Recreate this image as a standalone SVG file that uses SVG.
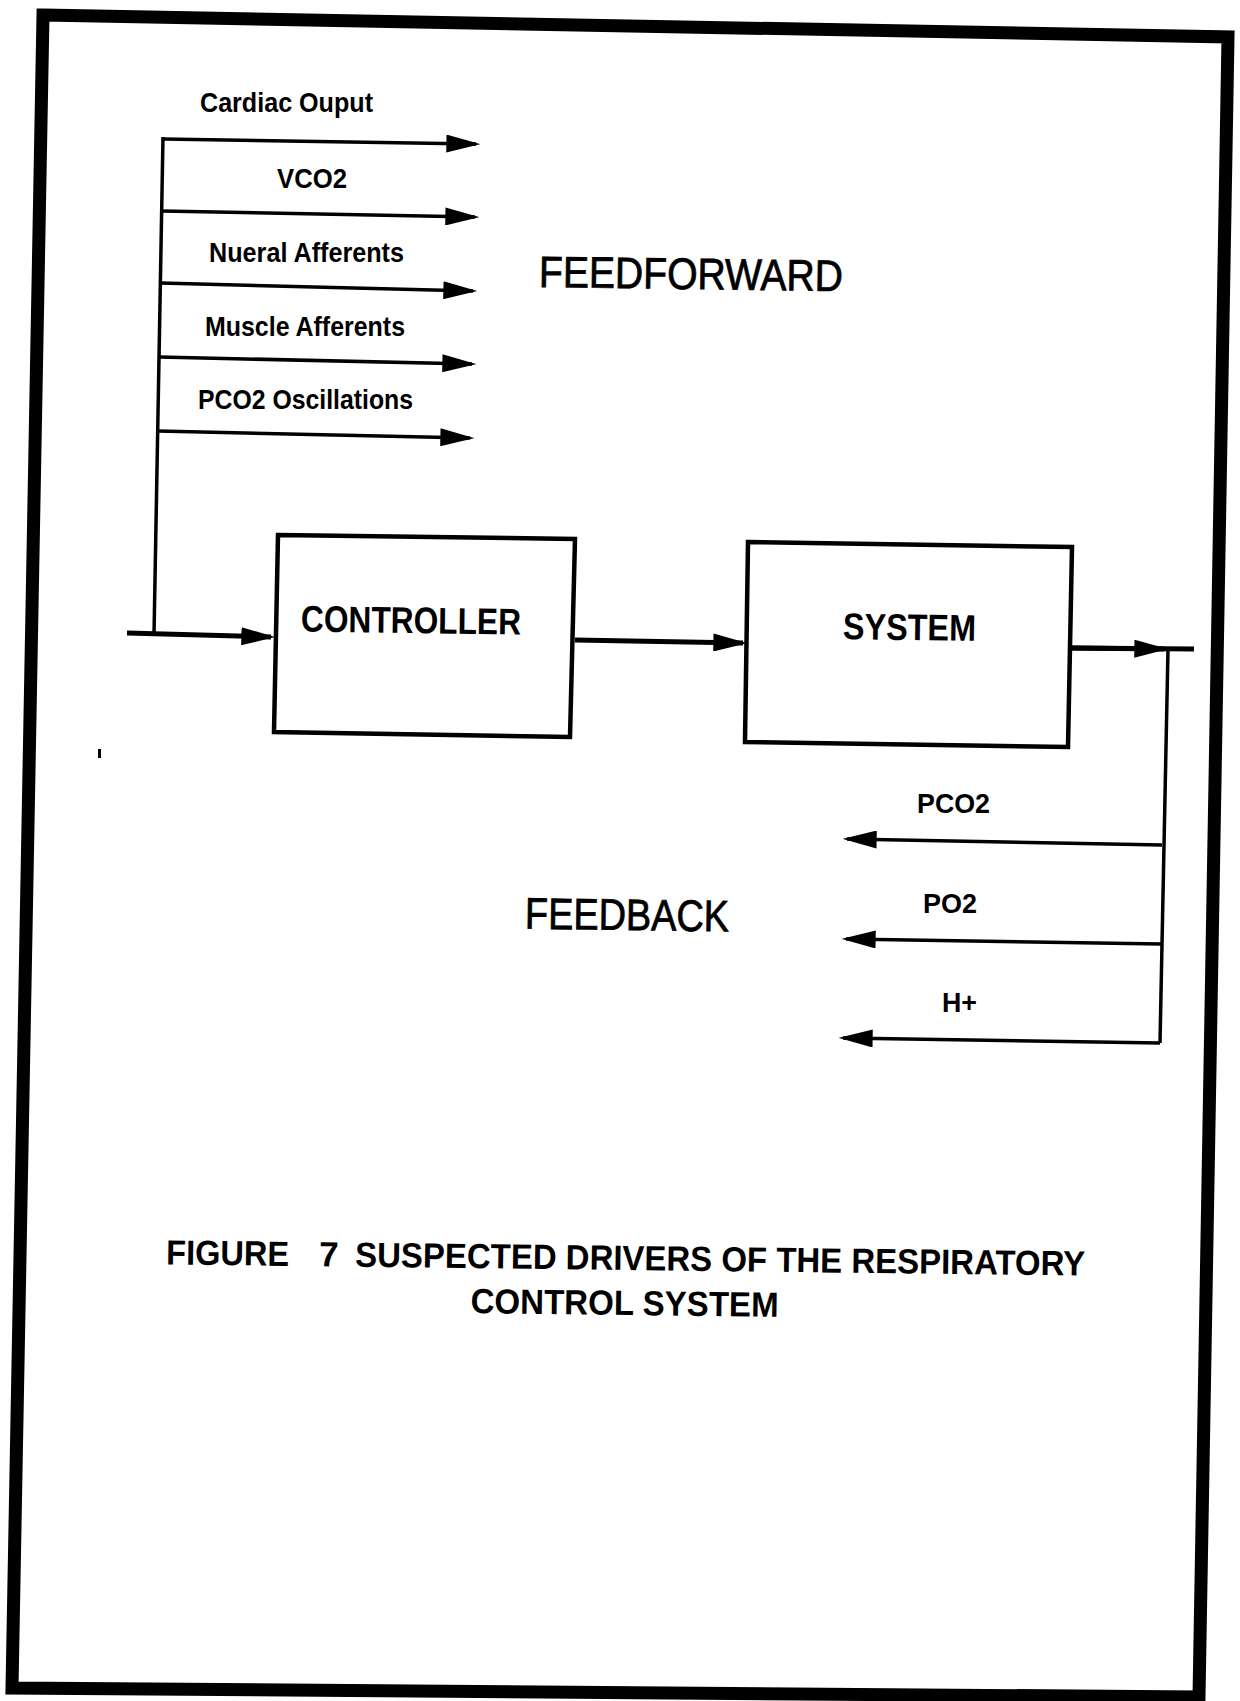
<svg xmlns="http://www.w3.org/2000/svg" width="1240" height="1701" viewBox="0 0 1240 1701">
<defs>
<marker id="ah" markerUnits="userSpaceOnUse" markerWidth="34" markerHeight="18" viewBox="0 0 32 17" refX="28" refY="8.5" orient="auto">
<path d="M0,0 L32,8.5 L0,17 Z" fill="#000"/>
</marker>
<style>
.frame{fill:none;stroke:#000;stroke-width:13;stroke-linejoin:miter}
.box{fill:#fff;stroke:#000;stroke-width:4.5;stroke-linejoin:miter}
.ln{fill:none;stroke:#000;stroke-width:3.5;stroke-linecap:butt}
.main{fill:none;stroke:#000;stroke-width:5;stroke-linecap:butt}
.lbl{font-family:"Liberation Sans",Arial,sans-serif;font-weight:bold;font-size:28px;fill:#000}
.big{font-family:"Liberation Sans",Arial,sans-serif;font-size:44px;fill:#000;stroke:#000;stroke-width:0.8}
.nodet{font-family:"Liberation Sans",Arial,sans-serif;font-weight:bold;font-size:37px;fill:#000}
.cap{font-family:"Liberation Sans",Arial,sans-serif;font-weight:bold;font-size:35px;fill:#000}
</style>
</defs>
<rect width="1240" height="1701" fill="#fff"/>
<polygon class="frame" points="43,15 1228,37 1199,1697 12,1688"/>

<g id="connectors">
<path class="ln" d="M163,137 L154,635"/>
<path class="main" d="M127,633 L271,637" marker-end="url(#ah)"/>
<path class="ln" d="M163,139 L476,144" marker-end="url(#ah)"/>
<path class="ln" d="M161.7,211 L475,217" marker-end="url(#ah)"/>
<path class="ln" d="M160.3,283 L473,291" marker-end="url(#ah)"/>
<path class="ln" d="M159,357 L472,364" marker-end="url(#ah)"/>
<path class="ln" d="M157.7,431 L470,438" marker-end="url(#ah)"/>
<path class="main" d="M575,640 L743,643" marker-end="url(#ah)"/>
<path class="main" d="M1072,648 L1194,649"/>
<path class="main" d="M1072,648 L1164,649" marker-end="url(#ah)"/>
<path class="ln" d="M1168,649 L1160,1043"/>
<path class="ln" d="M1162,845 L847,839" marker-end="url(#ah)"/>
<path class="ln" d="M1161,944 L846,939" marker-end="url(#ah)"/>
<path class="ln" d="M1160,1043 L843,1038" marker-end="url(#ah)"/>
</g>

<g id="controller">
<polygon class="box" points="278,535 575,539 570,737 274,732"/>
<text class="nodet" x="301" y="633" textLength="220" lengthAdjust="spacingAndGlyphs" transform="rotate(0.8 411 620)">CONTROLLER</text>
</g>

<g id="system">
<polygon class="box" points="748,542 1072,547 1068,747 745,742"/>
<text class="nodet" x="843" y="640" textLength="133" lengthAdjust="spacingAndGlyphs" transform="rotate(0.8 909 628)">SYSTEM</text>
</g>

<g id="feedforward-labels">
<text class="lbl" x="200" y="112" textLength="173" lengthAdjust="spacingAndGlyphs">Cardiac Ouput</text>
<text class="lbl" x="277" y="188" textLength="70" lengthAdjust="spacingAndGlyphs">VCO2</text>
<text class="lbl" x="209" y="262" textLength="195" lengthAdjust="spacingAndGlyphs">Nueral Afferents</text>
<text class="lbl" x="205" y="336" textLength="200" lengthAdjust="spacingAndGlyphs">Muscle Afferents</text>
<text class="lbl" x="198" y="409" textLength="215" lengthAdjust="spacingAndGlyphs">PCO2 Oscillations</text>
<text class="big" x="539" y="289" textLength="304" lengthAdjust="spacingAndGlyphs" transform="rotate(0.8 691 273)">FEEDFORWARD</text>
</g>

<g id="feedback-labels">
<text class="lbl" x="917" y="813" textLength="73" lengthAdjust="spacingAndGlyphs">PCO2</text>
<text class="lbl" x="923" y="913" textLength="54" lengthAdjust="spacingAndGlyphs">PO2</text>
<text class="lbl" x="942" y="1012" textLength="35" lengthAdjust="spacingAndGlyphs">H+</text>
<text class="big" x="525" y="930" textLength="204" lengthAdjust="spacingAndGlyphs" transform="rotate(0.8 627 914)">FEEDBACK</text>
</g>

<g id="caption" transform="rotate(0.7 625 1270)">
<text class="cap" x="166" y="1270" textLength="123" lengthAdjust="spacingAndGlyphs">FIGURE</text>
<text class="cap" x="319" y="1270">7</text>
<text class="cap" x="355" y="1270" textLength="730" lengthAdjust="spacingAndGlyphs">SUSPECTED DRIVERS OF THE RESPIRATORY</text>
<text class="cap" x="471" y="1315" textLength="308" lengthAdjust="spacingAndGlyphs">CONTROL SYSTEM</text>
</g>

<rect x="98" y="749" width="3" height="9" fill="#000"/>
</svg>
